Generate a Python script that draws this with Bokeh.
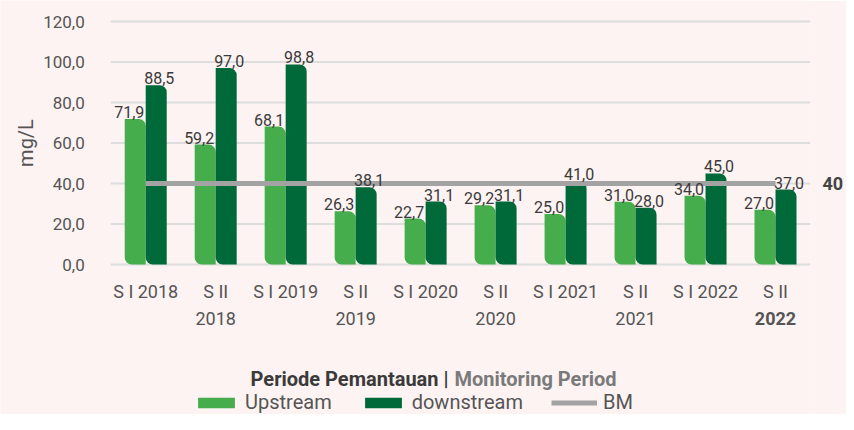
import math
from bokeh.plotting import figure
from bokeh.models import (ColumnDataSource, Range1d, FixedTicker, LabelSet, Label,
                          Legend, LegendItem, LinearAxis)
from bokeh.core.properties import value
from bokeh.embed import file_html
from bokeh.resources import INLINE

periods = ["S I 2018", "S II\n2018", "S I 2019", "S II\n2019", "S I 2020",
           "S II\n2020", "S I 2021", "S II\n2021", "S I 2022", "S II\n2022"]
upstream = [71.9, 59.2, 68.1, 26.3, 22.7, 29.2, 25.0, 31.0, 34.0, 27.0]
downstream = [88.5, 97.0, 98.8, 38.1, 31.1, 31.1, 41.0, 28.0, 45.0, 37.0]
bm_value = 40
y_ticks = [0, 20, 40, 60, 80, 100, 120]

BG = "#fdf3f2"
UP_C = "#45ad4b"
DOWN_C = "#00693a"
BM_C = "#a3a3a3"
GRID_C = "#dddddd"
TXT = "#555555"
FONT = "Roboto"

# layout helpers (pixels)
PX = 2.025          # pixels per mg/L unit
PXX = 71.1          # pixels per category
LEFT = 112          # space left of the category band
TOP = 21            # space above the 120 line
BOTTOM = 150        # space below the zero line

idx = list(range(len(periods)))
x_lo, x_hi = -0.5, len(periods) - 0.5
fmt = lambda v: f"{v:.1f}".replace(".", ",")

src_up = ColumnDataSource(dict(x=[i - 0.15 for i in idx], y=upstream,
                               t=[fmt(v) for v in upstream]))
src_dn = ColumnDataSource(dict(x=[i + 0.15 for i in idx], y=downstream,
                               t=[fmt(v) for v in downstream]))

p = figure(width=846, height=414, output_backend="svg", toolbar_location=None,
           x_range=Range1d(x_lo - LEFT / PXX, x_hi),
           y_range=Range1d(-BOTTOM / PX, y_ticks[-1] + TOP / PX),
           x_axis_location=None, y_axis_location=None,
           min_border_left=0, min_border_right=23, min_border_top=0,
           min_border_bottom=0)
p.background_fill_color = BG
p.border_fill_color = BG
p.outline_line_color = None
p.xgrid.visible = False
p.ygrid.visible = False

# horizontal grid lines at the y ticks, across the category band
p.segment(x0=[x_lo] * len(y_ticks), x1=[x_hi] * len(y_ticks), y0=y_ticks,
          y1=y_ticks, line_color=GRID_C, line_width=2)

r_up = p.vbar(x="x", top="y", width=0.3, source=src_up, fill_color=UP_C,
              line_color=None, border_radius=(0, 7, 0, 7))
r_dn = p.vbar(x="x", top="y", width=0.3, source=src_dn, fill_color=DOWN_C,
              line_color=None, border_radius=(0, 7, 0, 7))
r_bm = p.line(x=[idx[0], idx[-1]], y=[bm_value, bm_value], line_color=BM_C,
              line_width=5)

for src, dx in ((src_up, -6), (src_dn, 3)):
    p.add_layout(LabelSet(x="x", y="y", text="t", source=src, y_offset=1,
                          x_offset=dx, text_align="center", text_baseline="bottom",
                          text_font=value(FONT), text_font_size="16px",
                          text_color="#3a3a3a"))

# y tick labels
p.text(x=[x_lo] * len(y_ticks), y=y_ticks, text=[fmt(v) for v in y_ticks],
       x_offset=-26, text_align="right", text_baseline="middle",
       text_font=value(FONT), text_font_size="17px", text_color=TXT)

# y axis title
p.add_layout(Label(x=25, x_units="screen", y=y_ticks[-1] / 2, text="mg/L",
                   angle=math.pi / 2, text_align="center", text_baseline="middle",
                   text_font=FONT, text_font_size="20px", text_color=TXT))

# right axis carrying the BM value label
ra = LinearAxis(ticker=FixedTicker(ticks=[bm_value]),
                major_label_overrides={bm_value: str(bm_value)})
ra.axis_line_color = None
ra.major_tick_line_color = None
ra.minor_tick_line_color = None
ra.major_label_standoff = 6
ra.major_label_text_font = FONT
ra.major_label_text_font_size = "18px"
ra.major_label_text_font_style = "bold"
ra.major_label_text_color = "#444444"
p.add_layout(ra, "right")

# category labels
line1 = [s.split("\n")[0] for s in periods]
x2 = [i for i, s in zip(idx, periods) if "\n" in s and i != idx[-1]]
line2 = [periods[i].split("\n")[1] for i in x2]
p.text(x=idx, y=[-27 / PX] * len(idx), text=line1, text_font=value(FONT),
       text_font_size="18px", text_align="center", text_baseline="middle",
       text_color=TXT)
p.text(x=x2, y=[-54 / PX] * len(x2), text=line2, text_font=value(FONT),
       text_font_size="18px", text_align="center", text_baseline="middle",
       text_color=TXT)
p.text(x=[idx[-1]], y=[-54 / PX], text=[periods[-1].split("\n")[1]],
       text_font=value(FONT), text_font_size="18px", text_font_style="bold",
       text_align="center", text_baseline="middle", text_color=TXT)

# x axis title
p.add_layout(Label(x=448, y=-114 / PX, x_units="screen",
                   text="Periode Pemantauan |", text_align="right",
                   text_baseline="middle", text_font=FONT, text_font_size="20px",
                   text_font_style="bold", text_color="#3a3a3a"))
p.add_layout(Label(x=454, y=-114 / PX, x_units="screen",
                   text="Monitoring Period", text_align="left",
                   text_baseline="middle", text_font=FONT, text_font_size="20px",
                   text_font_style="bold", text_color="#7a7a7a"))

legend = Legend(items=[LegendItem(label="Upstream", renderers=[r_up]),
                       LegendItem(label="downstream", renderers=[r_dn]),
                       LegendItem(label="BM", renderers=[r_bm])],
                orientation="horizontal", location=(193, 0),
                glyph_width=46, glyph_height=13, label_standoff=6, spacing=28,
                padding=0, margin=0, background_fill_alpha=0,
                border_line_color=None, label_text_font=FONT,
                label_text_font_size="20px", label_text_color=TXT)
p.add_layout(legend, "center")

open("out.html", "w").write(file_html(p, INLINE))
